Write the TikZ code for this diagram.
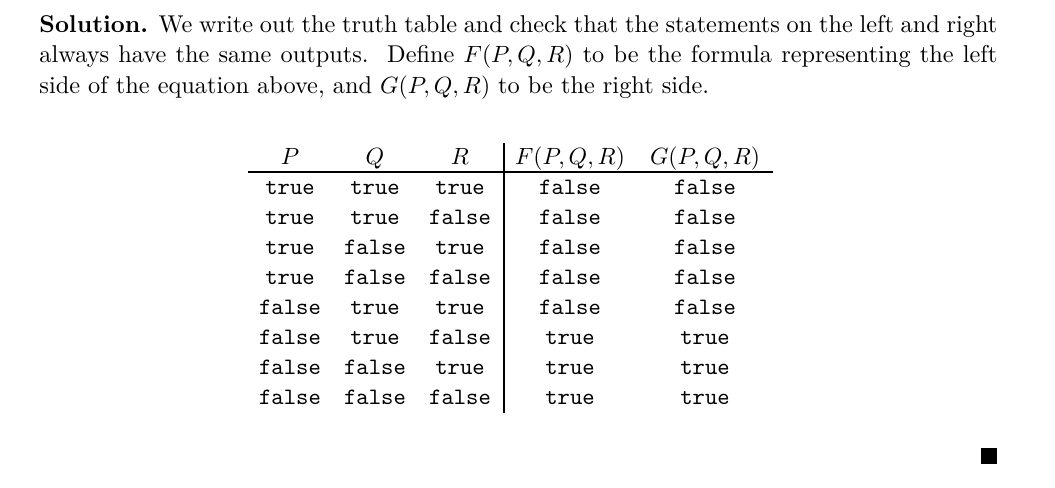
\documentclass[tikz,border=0pt]{standalone}
\begin{document}
\begin{tikzpicture}[x=0.4255pt,y=-0.4255pt,
  cell/.style={anchor=base,inner sep=0pt,font=\fontsize{10}{12}\selectfont},
  hcell/.style={anchor=base,inner sep=0pt,font=\fontsize{10.2}{12}\selectfont},
  txtline/.style={anchor=base west,inner sep=0pt,font=\fontsize{10.35}{12}\selectfont},
  rulestyle/.style={line width=0.45pt}]
\useasboundingbox (0,0) rectangle (1055,487);
% paragraph
\node[txtline] (l1) at (39,32) {\makebox[407.6pt][s]{\textbf{Solution.} We write out the truth table and check that the statements on the left and right}};
\node[txtline] (l2) at (39,62.5) {\makebox[407.6pt][s]{always have the same outputs.\ \ Define $F(P,Q,R)$ to be the formula representing the left}};
\node[txtline] (l3) at (39,93) {side of the equation above, and $G(P,Q,R)$ to be the right side.};
% header
\node[hcell] (hP) at (290,164) {$P$};
\node[hcell] (hQ) at (375,164) {$Q$};
\node[hcell] (hR) at (460,164) {$R$};
\node[hcell] (hF) at (570,164) {$F(P,Q,R)$};
\node[hcell] (hG) at (705,164) {$G(P,Q,R)$};
% rows
\foreach \p/\q/\r/\f/\g [count=\i] in {
  true/true/true/false/false,
  true/true/false/false/false,
  true/false/true/false/false,
  true/false/false/false/false,
  false/true/true/false/false,
  false/true/false/true/true,
  false/false/true/true/true,
  false/false/false/true/true}{
  \pgfmathsetmacro{\yy}{194+30*(\i-1)}
  \node[cell] (p\i) at (290,\yy) {\texttt{\p}};
  \node[cell] (q\i) at (375,\yy) {\texttt{\q}};
  \node[cell] (r\i) at (460,\yy) {\texttt{\r}};
  \node[cell] (f\i) at (570,\yy) {\texttt{\f}};
  \node[cell] (g\i) at (705,\yy) {\texttt{\g}};
}
% rules
\coordinate (hl) at (248,172);
\coordinate (hr) at (773,172);
\coordinate (vt) at (504,143);
\coordinate (vb) at (504,413);
\draw[rulestyle] (hl) -- (hr);
\draw[rulestyle] (vt) -- (vb);
% qed
\fill (981,448) rectangle (997,464);
\end{tikzpicture}
\end{document}
